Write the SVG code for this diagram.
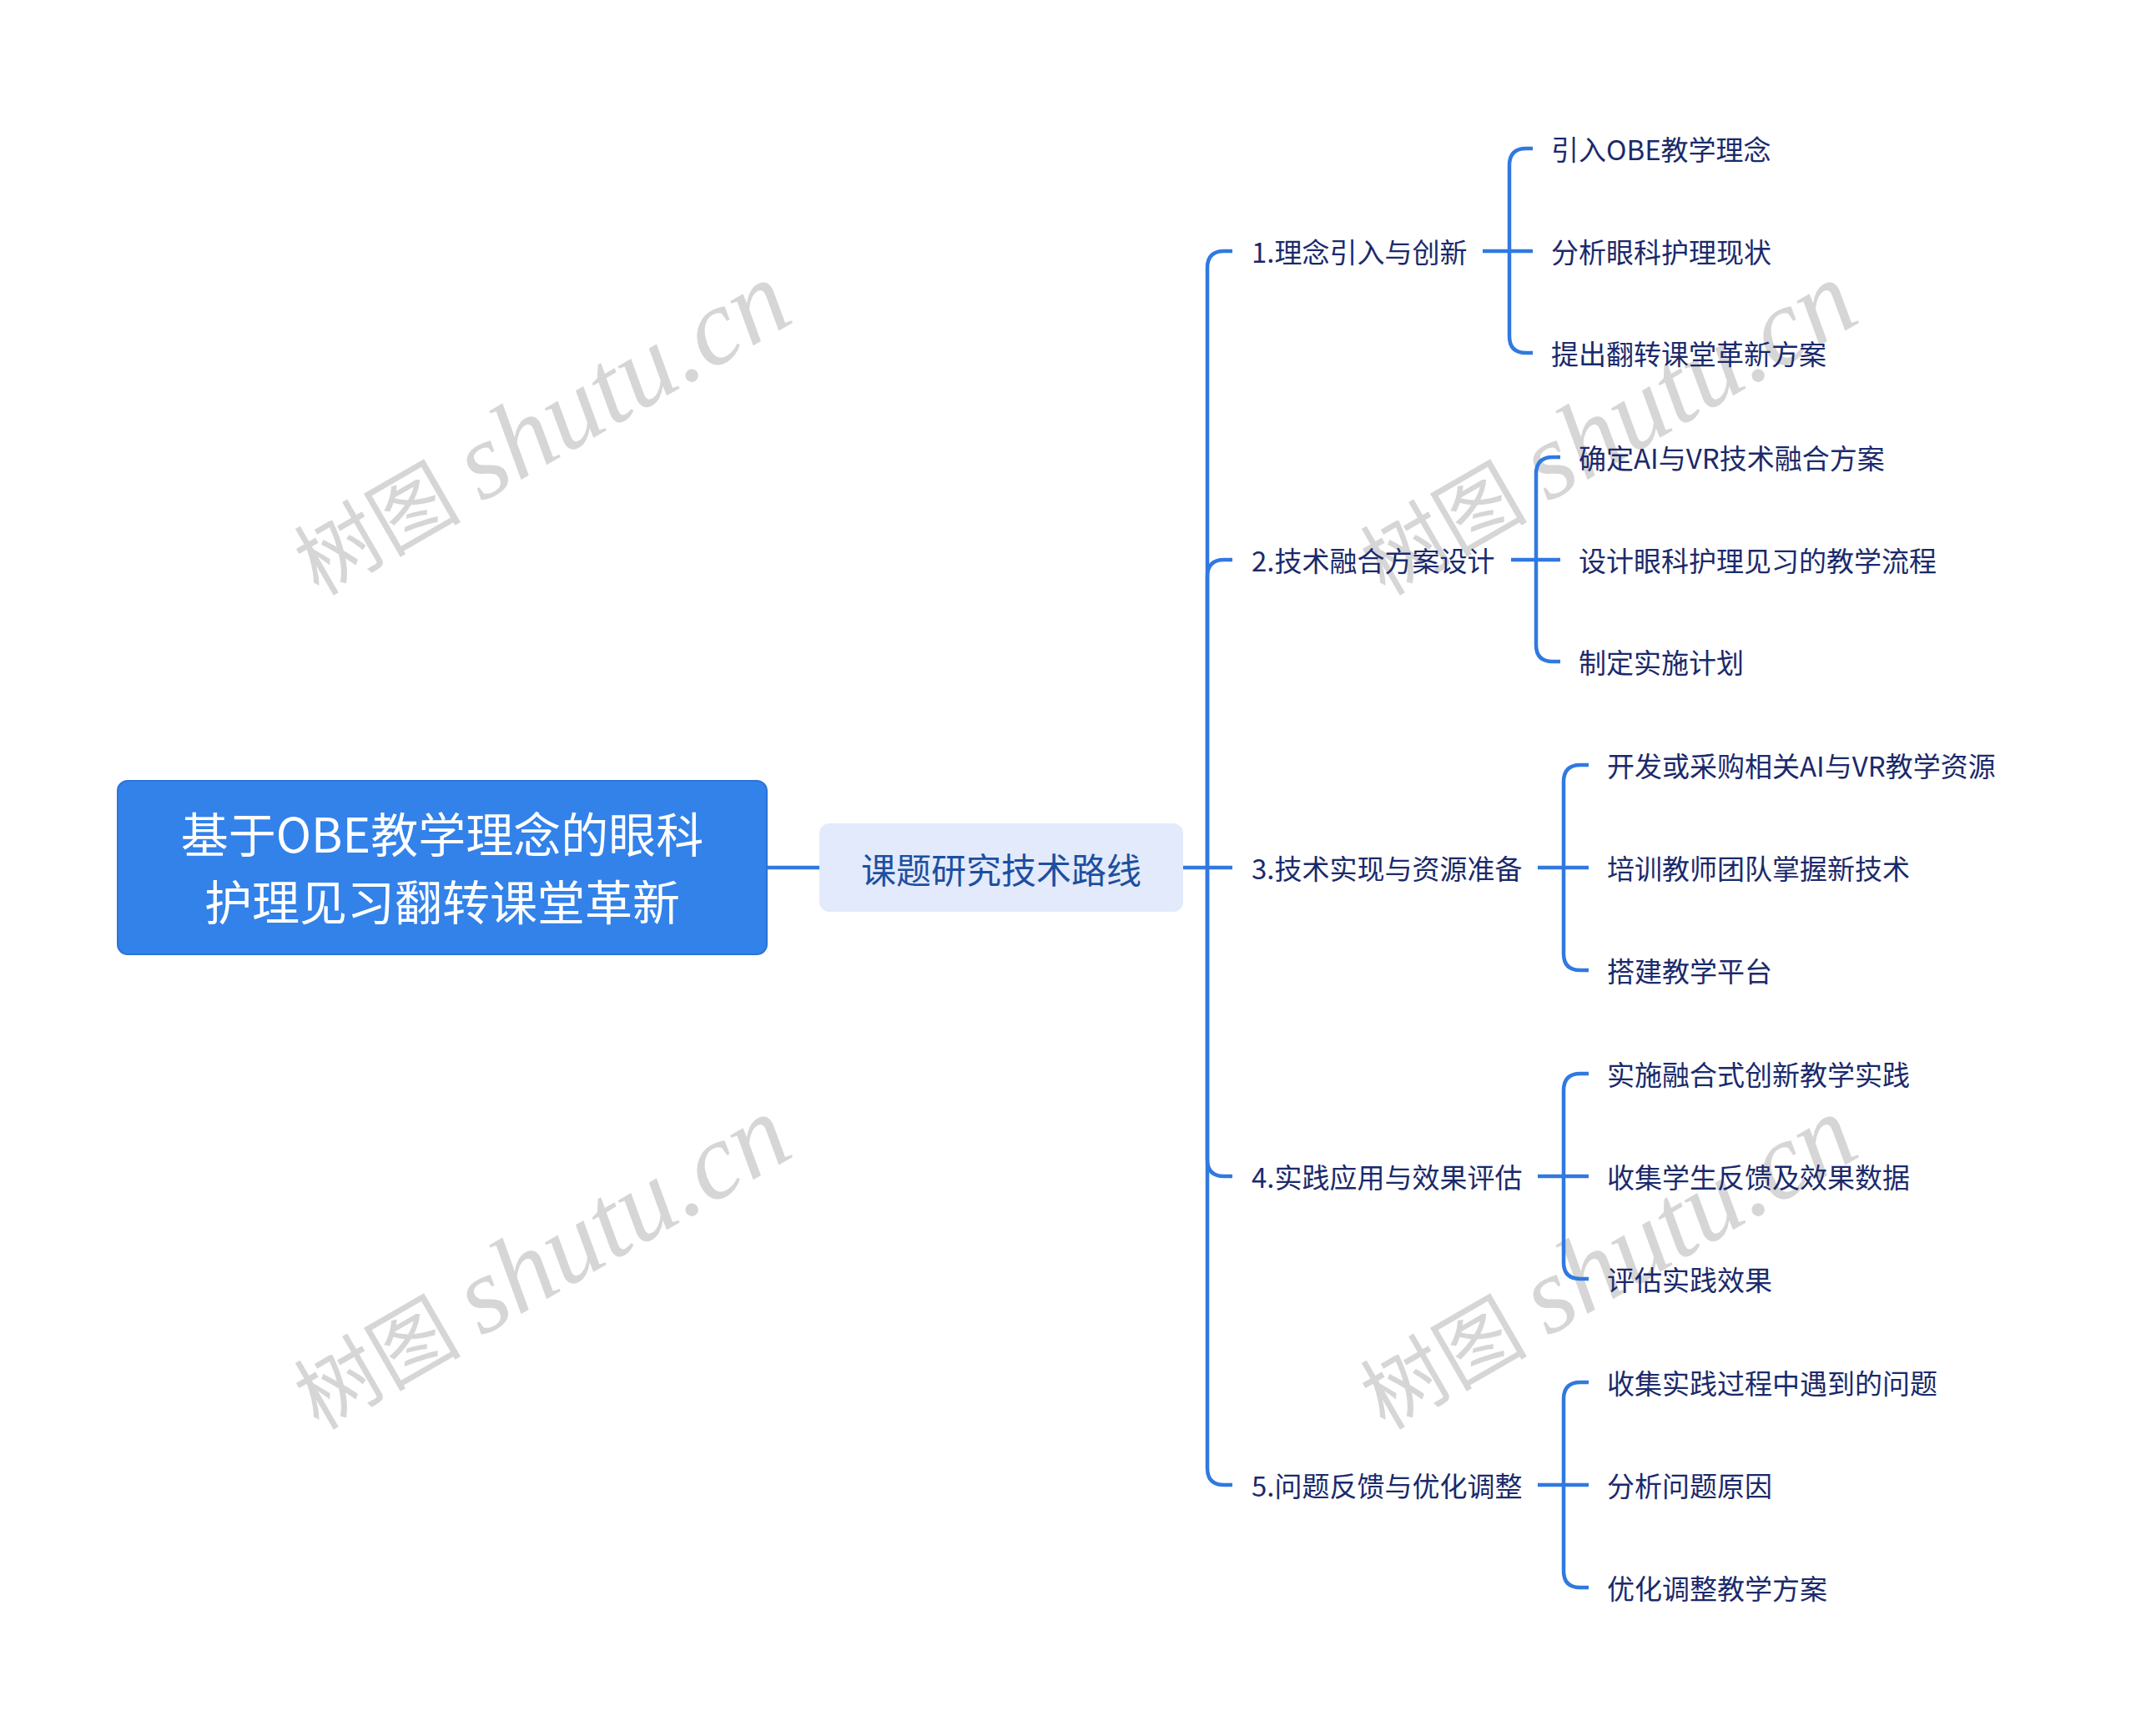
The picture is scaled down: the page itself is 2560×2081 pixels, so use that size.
<svg xmlns="http://www.w3.org/2000/svg" width="2560" height="2081" viewBox="0 0 2560 2081">
<style>
.wm{font-family:"Liberation Serif","Noto Sans CJK SC",serif;font-size:100px;fill:#d6d6d6;}
.wm .it{font-style:italic;font-size:130px;}
.conn{fill:none;stroke:#3079e0;stroke-width:4.5;stroke-linecap:butt;}
.root-box{fill:#3282ea;stroke:#2b73d6;stroke-width:2;}
.root-t{font-family:"Noto Sans CJK SC",sans-serif;font-size:57px;fill:#ffffff;text-anchor:middle;dominant-baseline:central;}
.mid-box{fill:#e3eafb;}
.mid-t{font-family:"Noto Sans CJK SC",sans-serif;font-size:42px;fill:#1e4fa0;text-anchor:middle;dominant-baseline:central;}
.t{font-family:"Noto Sans CJK SC",sans-serif;font-size:33px;fill:#1b2a6b;dominant-baseline:central;}
</style>
<rect width="2560" height="2081" fill="#ffffff"/>
<g id="watermarks">
<text class="wm" x="648" y="555" text-anchor="middle" transform="rotate(-30 648 514)">树图 <tspan class="it">shutu.cn</tspan></text>
<text class="wm" x="1926" y="555" text-anchor="middle" transform="rotate(-30 1926 514)">树图 <tspan class="it">shutu.cn</tspan></text>
<text class="wm" x="648" y="1555" text-anchor="middle" transform="rotate(-30 648 1514)">树图 <tspan class="it">shutu.cn</tspan></text>
<text class="wm" x="1926" y="1555" text-anchor="middle" transform="rotate(-30 1926 1514)">树图 <tspan class="it">shutu.cn</tspan></text>
</g>
<g id="connectors">
<path class="conn" d="M920 1040 H982"/>
<path class="conn" d="M1418 1040 H1477"/>
<path class="conn" d="M1447 1040 V321 Q1447 301 1467 301 H1477"/>
<path class="conn" d="M1447 1040 V691 Q1447 671 1467 671 H1477"/>
<path class="conn" d="M1447 1040 V1390 Q1447 1410 1467 1410 H1477"/>
<path class="conn" d="M1447 1040 V1760 Q1447 1780 1467 1780 H1477"/>
<path class="conn" d="M1777 301 H1837"/>
<path class="conn" d="M1809 301 V198 Q1809 178 1829 178 H1837"/>
<path class="conn" d="M1809 301 V403 Q1809 423 1829 423 H1837"/>
<path class="conn" d="M1811 671 H1870"/>
<path class="conn" d="M1841 671 V568 Q1841 548 1861 548 H1870"/>
<path class="conn" d="M1841 671 V773 Q1841 793 1861 793 H1870"/>
<path class="conn" d="M1843 1040 H1904"/>
<path class="conn" d="M1874 1040 V937 Q1874 917 1894 917 H1904"/>
<path class="conn" d="M1874 1040 V1143 Q1874 1163 1894 1163 H1904"/>
<path class="conn" d="M1843 1410 H1904"/>
<path class="conn" d="M1874 1410 V1307 Q1874 1287 1894 1287 H1904"/>
<path class="conn" d="M1874 1410 V1513 Q1874 1533 1894 1533 H1904"/>
<path class="conn" d="M1843 1780 H1904"/>
<path class="conn" d="M1874 1780 V1677 Q1874 1657 1894 1657 H1904"/>
<path class="conn" d="M1874 1780 V1883 Q1874 1903 1894 1903 H1904"/>
</g>
<g id="root">
<rect class="root-box" x="141" y="936" width="778" height="208" rx="12"/>
<text class="root-t" x="530" y="997">基于OBE教学理念的眼科</text>
<text class="root-t" x="530" y="1078">护理见习翻转课堂革新</text>
</g>
<g id="center">
<rect class="mid-box" x="982" y="987" width="436" height="106" rx="12"/>
<text class="mid-t" x="1200" y="1040">课题研究技术路线</text>
</g>
<g id="b1"><text class="t" x="1500" y="301">1.理念引入与创新</text></g>
<g id="b1-1"><text class="t" x="1859" y="178">引入OBE教学理念</text></g>
<g id="b1-2"><text class="t" x="1859" y="301">分析眼科护理现状</text></g>
<g id="b1-3"><text class="t" x="1859" y="423">提出翻转课堂革新方案</text></g>
<g id="b2"><text class="t" x="1500" y="671">2.技术融合方案设计</text></g>
<g id="b2-1"><text class="t" x="1892" y="548">确定AI与VR技术融合方案</text></g>
<g id="b2-2"><text class="t" x="1892" y="671">设计眼科护理见习的教学流程</text></g>
<g id="b2-3"><text class="t" x="1892" y="793">制定实施计划</text></g>
<g id="b3"><text class="t" x="1500" y="1040">3.技术实现与资源准备</text></g>
<g id="b3-1"><text class="t" x="1926" y="917">开发或采购相关AI与VR教学资源</text></g>
<g id="b3-2"><text class="t" x="1926" y="1040">培训教师团队掌握新技术</text></g>
<g id="b3-3"><text class="t" x="1926" y="1163">搭建教学平台</text></g>
<g id="b4"><text class="t" x="1500" y="1410">4.实践应用与效果评估</text></g>
<g id="b4-1"><text class="t" x="1926" y="1287">实施融合式创新教学实践</text></g>
<g id="b4-2"><text class="t" x="1926" y="1410">收集学生反馈及效果数据</text></g>
<g id="b4-3"><text class="t" x="1926" y="1533">评估实践效果</text></g>
<g id="b5"><text class="t" x="1500" y="1780">5.问题反馈与优化调整</text></g>
<g id="b5-1"><text class="t" x="1926" y="1657">收集实践过程中遇到的问题</text></g>
<g id="b5-2"><text class="t" x="1926" y="1780">分析问题原因</text></g>
<g id="b5-3"><text class="t" x="1926" y="1903">优化调整教学方案</text></g>
</svg>
